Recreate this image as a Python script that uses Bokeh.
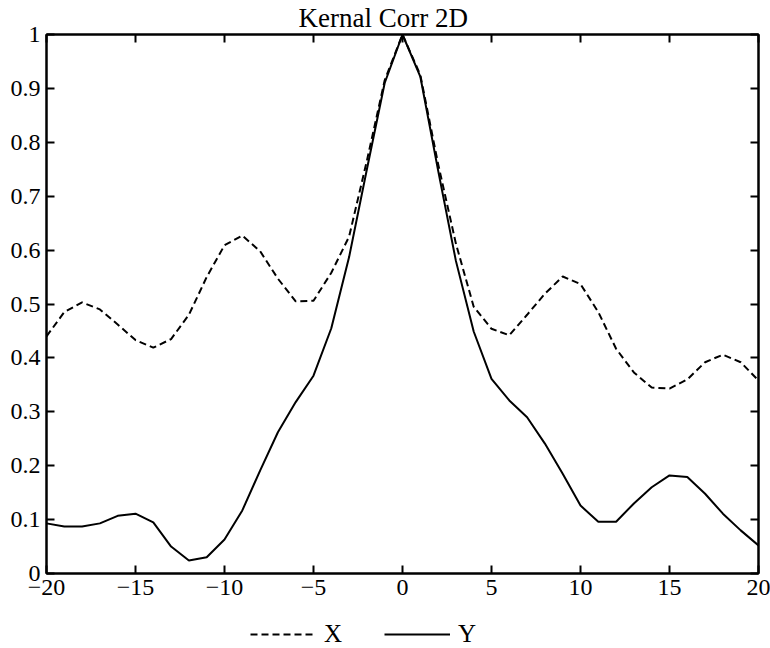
from bokeh.plotting import figure
from bokeh.layouts import column
from bokeh.models import Range1d, LinearAxis, FixedTicker, Legend, LegendItem
from bokeh.embed import file_html
from bokeh.resources import INLINE

# ---- data ----
lag = [-20, -19, -18, -17, -16, -15, -14, -13, -12, -11, -10, -9, -8, -7, -6, -5, -4, -3, -2, -1,
       0, 1, 2, 3, 4, 5, 6, 7, 8, 9, 10, 11, 12, 13, 14, 15, 16, 17, 18, 19, 20]
corr_x = [0.440, 0.485, 0.503, 0.490, 0.462, 0.433, 0.419, 0.435, 0.480, 0.550,
          0.609, 0.627, 0.598, 0.547, 0.505, 0.506, 0.558, 0.625, 0.766, 0.915,
          1.000, 0.925, 0.760, 0.612, 0.495, 0.454, 0.442, 0.480, 0.519, 0.551,
          0.537, 0.485, 0.417, 0.373, 0.345, 0.343, 0.360, 0.392, 0.406, 0.392, 0.358]
corr_y = [0.093, 0.087, 0.087, 0.093, 0.107, 0.111, 0.095, 0.050, 0.024, 0.030,
          0.063, 0.117, 0.191, 0.262, 0.318, 0.367, 0.455, 0.587, 0.750, 0.910,
          1.000, 0.922, 0.748, 0.580, 0.449, 0.361, 0.321, 0.290, 0.241, 0.185,
          0.126, 0.096, 0.096, 0.130, 0.160, 0.182, 0.179, 0.148, 0.111, 0.080, 0.052]

x_ticks = [-20, -15, -10, -5, 0, 5, 10, 15, 20]
x_tick_labels = ["\u221220", "\u221215", "\u221210", "\u22125", "0", "5", "10", "15", "20"]
y_ticks = [0, 0.1, 0.2, 0.3, 0.4, 0.5, 0.6, 0.7, 0.8, 0.9, 1.0]
y_tick_labels = ["0", "0.1", "0.2", "0.3", "0.4", "0.5", "0.6", "0.7", "0.8", "0.9", "1"]
series_names = ["X", "Y"]
title_text = "Kernal Corr 2D"

FONT = "Liberation Serif"
DASH = "7 4"

p = figure(width=770, height=610,
           output_backend="svg", toolbar_location=None,
           x_range=Range1d(-20, 20), y_range=Range1d(0, 1),
           x_axis_location=None, y_axis_location=None,
           min_border_left=46, min_border_right=12, min_border_top=34, min_border_bottom=37)
p.grid.visible = False
p.outline_line_color = "black"
p.outline_line_width = 2
p.background_fill_color = "white"
p.border_fill_color = "white"

p.title.text = title_text
p.title.text_font = FONT
p.title.text_font_size = "27px"
p.title.text_font_style = "normal"
p.title.text_color = "black"
p.title.align = "left"
p.title.offset = 252
p.title.standoff = 0
p.title.vertical_align = "top"


def make_axis(ticks, labels, show_labels):
    ax = LinearAxis(ticker=FixedTicker(ticks=ticks))
    ax.major_tick_in = 8
    ax.major_tick_out = 0
    ax.minor_tick_line_color = None
    ax.major_tick_line_width = 2
    ax.axis_line_width = 2
    if show_labels:
        ax.major_label_overrides = {t: l for t, l in zip(ticks, labels)}
        ax.major_label_text_font = FONT
        ax.major_label_text_color = "black"
        ax.major_label_text_font_size = "24px"
        ax.major_label_standoff = 6
    else:
        ax.major_label_text_font_size = "0px"
        ax.major_label_text_color = None
        ax.major_label_standoff = 0
    return ax


p.add_layout(make_axis(x_ticks, x_tick_labels, True), "below")
p.add_layout(make_axis(y_ticks, y_tick_labels, True), "left")
p.add_layout(make_axis(x_ticks, x_tick_labels, False), "above")
p.add_layout(make_axis(y_ticks, y_tick_labels, False), "right")

p.line(lag, corr_x, line_color="black", line_width=2, line_dash=DASH)
p.line(lag, corr_y, line_color="black", line_width=2)

# ---- legend strip below the chart (its keys use one data point, so draw no line) ----
pl = figure(width=770, height=38, output_backend="svg", toolbar_location=None,
            x_range=Range1d(-20, 20), y_range=Range1d(0, 1),
            x_axis_location=None, y_axis_location=None,
            min_border=0)
pl.grid.visible = False
pl.outline_line_color = None
pl.background_fill_color = "white"
pl.border_fill_color = "white"
k1 = pl.line(lag[:1], corr_x[:1], line_color="black", line_width=2, line_dash=DASH)
k2 = pl.line(lag[:1], corr_y[:1], line_color="black", line_width=2)

legend = Legend(items=[LegendItem(label=series_names[0], renderers=[k1]),
                       LegendItem(label=series_names[1], renderers=[k2])],
                orientation="horizontal", location=(204, 0))
legend.label_text_font = FONT
legend.label_text_font_size = "25px"
legend.label_text_color = "black"
legend.glyph_width = 66
legend.glyph_height = 20
legend.label_standoff = 8
legend.spacing = 40
legend.padding = 0
legend.margin = 0
legend.border_line_color = None
legend.background_fill_alpha = 0
pl.add_layout(legend, "center")

open("out.html", "w").write(file_html(column(p, pl, spacing=0), INLINE))
